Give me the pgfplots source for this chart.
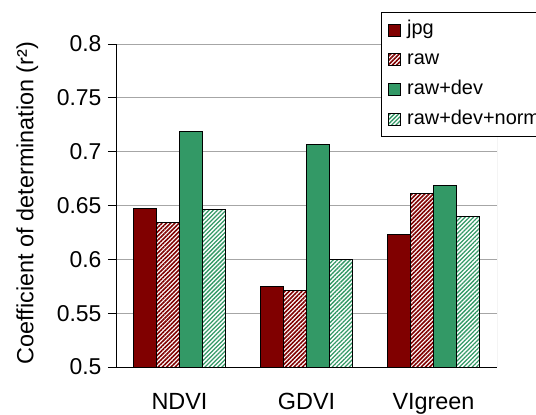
\documentclass[border=0pt]{standalone}
\usepackage{pgfplots}
\pgfplotsset{compat=1.18}
\usepackage{fontspec}
\setmainfont{Liberation Sans}
\usetikzlibrary{patterns.meta}
\definecolor{darkred}{HTML}{800000}
\definecolor{xlgreen}{HTML}{339966}
\begin{document}
\begin{tikzpicture}
\useasboundingbox (0,0) rectangle (536bp,415bp);
\begin{axis}[
  at={(116bp,48bp)}, anchor=south west,
  scale only axis, width=381bp, height=323bp,
  ybar=0pt, bar width=23bp,
  xmin=-0.5, xmax=2.5, ymin=0.5, ymax=0.8,
  axis lines=left, axis line style={-, black, line width=0.8pt},
  xtick={0,1,2}, xticklabels={NDVI,GDVI,VIgreen},
  x tick style={draw=none},
  extra x ticks={-0.5,0.5,1.5,2.5}, extra x tick labels={},
  extra x tick style={major tick length=7bp, tick align=outside, tick style={draw=black, line width=0.8pt}, grid=none},
  ytick={0.5,0.55,...,0.81},
  yticklabels={0.5,0.55,0.6,0.65,0.7,0.75,0.8},
  y tick style={black, line width=0.8pt},
  major tick length=8bp, tick align=outside,
  ymajorgrids, grid style={gray!70, line width=0.8pt},
  /pgf/number format/assume math mode=true,
  yticklabel style={font=\fontsize{23}{26}\selectfont, xshift=-3bp},
  xticklabel style={font=\fontsize{23.5}{26}\selectfont, yshift=-15bp},
  ylabel={Coefficient of determination (r²)},
  ylabel style={font=\fontsize{23.5}{26}\selectfont, at={(axis description cs:-0.217,0.508)}, anchor=base, rotate=0},
  legend image code/.code={\draw[#1, draw=black, line width=0.6pt] (0bp,-6bp) rectangle (12bp,6bp); \path (0bp,0bp) (18bp,0bp);},
  legend cell align=left,
  legend style={at={(axis description cs:0.6955,1.099)}, anchor=north west,
    draw=black, line width=0.8pt, font=\fontsize{20}{22}\selectfont,
    inner xsep=7bp, inner ysep=8.5bp, row sep=11.7bp, column sep=0pt,
    nodes={inner sep=0pt, text height=14bp, text depth=4bp, anchor=west}},
]
\draw[gray!70, line width=0.8pt] (rel axis cs:1,0) -- (rel axis cs:1,1);
\addplot[fill=darkred, draw=black, line width=0.8pt] coordinates {(0,0.647) (1,0.575) (2,0.623)};
\addplot[fill=white, draw=black, line width=0.8pt, postaction={pattern={Lines[angle=45,distance=3bp,line width=1.6bp]}, pattern color=darkred}] coordinates {(0,0.634) (1,0.571) (2,0.661)};
\addplot[fill=xlgreen, draw=black, line width=0.8pt] coordinates {(0,0.719) (1,0.707) (2,0.669)};
\addplot[fill=white, draw=black, line width=0.8pt, postaction={pattern={Lines[angle=45,distance=3bp,line width=1.3bp]}, pattern color=xlgreen}] coordinates {(0,0.646) (1,0.600) (2,0.640)};
\legend{jpg,raw,raw+dev,raw+dev+norm}
\end{axis}
\end{tikzpicture}
\end{document}
